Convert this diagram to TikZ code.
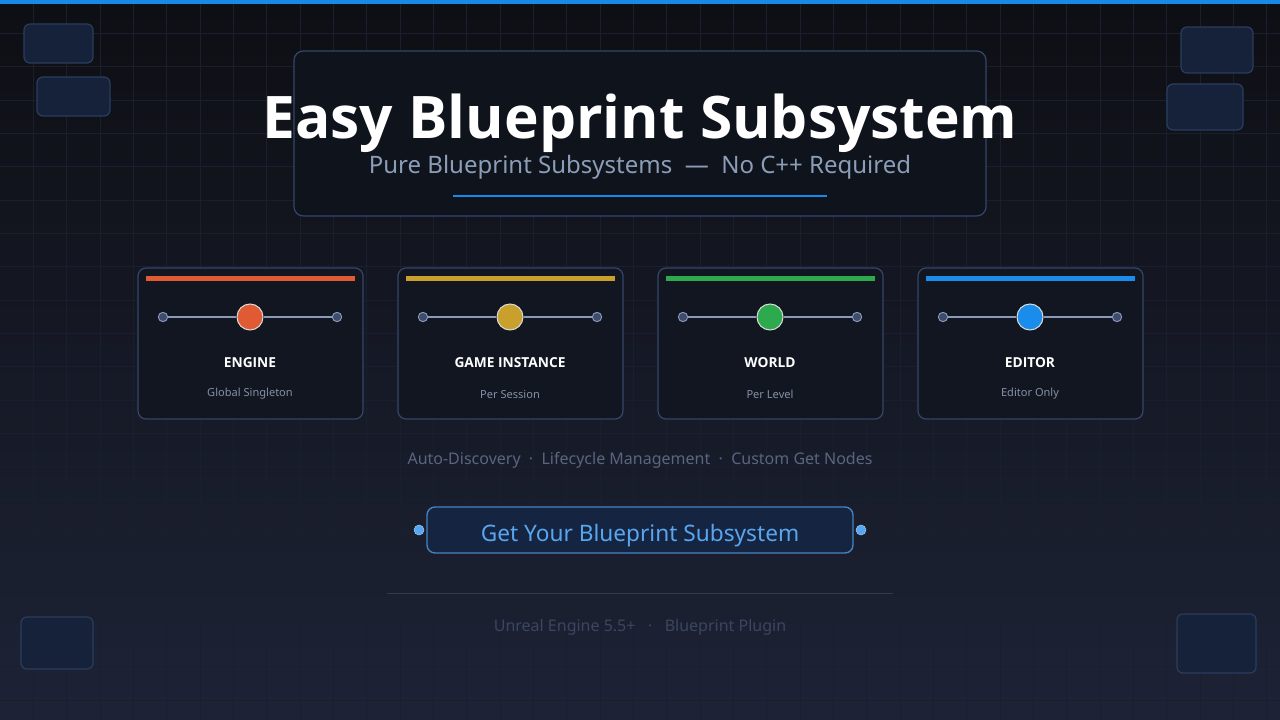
\documentclass[tikz,border=0pt]{standalone}
\usepackage{fontspec}
\setmainfont{Noto Sans}
\newfontfamily\boldf{Open Sans}
\begin{document}
\begin{tikzpicture}[x=0.75pt,y=-0.75pt,
  deco/.style={draw=deco,fill=decofill,line width=0.9pt,rounded corners=4.5pt},
  card/.style={draw=cardline,fill=cardfill,line width=0.9pt,rounded corners=6pt},
  rail/.style={draw=railc,line width=1pt},
  port/.style={circle,draw=portline,fill=portfill,inner sep=0pt,minimum size=7pt,line width=0.7pt},
  hub/.style={circle,draw=white!85!black,inner sep=0pt,minimum size=19.5pt,line width=0.8pt},
  ctitle/.style={text=white,font=\boldf\bfseries\fontsize{10.3}{12}\selectfont},
  csub/.style={text=subc,font=\fontsize{8.3}{10}\selectfont}]
\definecolor{bgtop}{HTML}{0E0F14}
\definecolor{bgbot}{HTML}{1D2336}
\definecolor{gridc}{HTML}{1A1F2F}
\definecolor{deco}{HTML}{2A3D5E}
\definecolor{decofill}{HTML}{15223A}
\definecolor{cardline}{HTML}{34466A}
\definecolor{cardfill}{HTML}{111621}
\definecolor{railc}{HTML}{8A9AB8}
\definecolor{portline}{HTML}{8A9AB8}
\definecolor{portfill}{HTML}{3E4D6E}
\definecolor{subc}{HTML}{8590A6}
\definecolor{accent}{HTML}{1789E6}
\definecolor{cEng}{HTML}{E05A33}
\definecolor{cGI}{HTML}{C9A02B}
\definecolor{cW}{HTML}{2EAA4E}
\definecolor{cEd}{HTML}{1A8CEB}
\definecolor{subtitle}{HTML}{8C9DB8}
\definecolor{feat}{HTML}{5A6580}
\definecolor{foot}{HTML}{3C4660}
\definecolor{btn}{HTML}{58A6F0}
\definecolor{btnfill}{HTML}{152440}
\useasboundingbox (0,0) rectangle (1280,720);
\shade[top color=bgtop,bottom color=bgbot] (0,0) rectangle (1280,720);
\foreach \i in {1,...,38} \draw[gridc,line width=0.5pt] (\i*33.33,0) -- (\i*33.33,720);
\foreach \i in {1,...,21} \draw[gridc,line width=0.5pt] (0,\i*33.33) -- (1280,\i*33.33);
\fill[accent] (0,0) rectangle (1280,4);
% deco boxes
\draw[deco] (24,24) rectangle (93,63);
\draw[deco] (37,77) rectangle (110,116);
\draw[deco] (1181,27) rectangle (1253,73);
\draw[deco] (1167,84) rectangle (1243,130);
\draw[deco] (21,617) rectangle (93,669);
\draw[deco] (1177,614) rectangle (1256,673);
% title panel
\draw[card,fill=cardfill!85!black,rounded corners=7pt] (294,51) rectangle (986,216);
\node[text=white,font=\boldf\bfseries\fontsize{44}{50}\selectfont] (title) at (640,123) {Easy Blueprint Subsystem};
\node[text=subtitle,font=\fontsize{18}{20}\selectfont] (sub) at (640,167) {Pure Blueprint Subsystems \ — \ No C++ Required};
\draw[accent,line width=1.5pt] (453,196) -- (827,196);
% cards
\foreach \cx/\col/\t/\s/\n in {250/cEng/ENGINE/Global Singleton/a,510/cGI/GAME INSTANCE/Per Session/b,770/cW/WORLD/Per Level/c,1030/cEd/EDITOR/Editor Only/d}{
  \draw[card] (\cx-112,268) rectangle (\cx+113,419);
  \fill[\col] (\cx-104,276) rectangle (\cx+105,280.5);
  \node[port] (l\n) at (\cx-87,317) {};
  \node[port] (r\n) at (\cx+87,317) {};
  \node[hub,fill=\col] (h\n) at (\cx,317) {};
  \draw[rail] (l\n) -- (h\n);
  \draw[rail] (h\n) -- (r\n);
  \node[ctitle] (t\n) at (\cx,363) {\t};
  \node[csub] (s\n) at (\cx,394) {\s};
}
\node[text=feat,font=\fontsize{12}{14}\selectfont] (features) at (640,460) {Auto-Discovery \ · \ Lifecycle Management \ · \ Custom Get Nodes};
% button
\draw[draw=btn!80!black,fill=btnfill,line width=1pt,rounded corners=6pt] (427,507) rectangle (853,553);
\node[text=btn,font=\fontsize{17}{20}\selectfont] (btntext) at (640,536) {Get Your Blueprint Subsystem};
\node[circle,fill=btn,draw=btn!60!white,inner sep=0pt,minimum size=7.5pt] (bl) at (419,530) {};
\node[circle,fill=btn,draw=btn!60!white,inner sep=0pt,minimum size=7.5pt] (br) at (861,530) {};
\draw[foot!70!bgbot,line width=0.6pt] (387,593) -- (893,593);
\node[text=foot,font=\fontsize{12}{14}\selectfont] (footer) at (640,627) {Unreal Engine 5.5+ \ \ · \ \ Blueprint Plugin};
\end{tikzpicture}
\end{document}
